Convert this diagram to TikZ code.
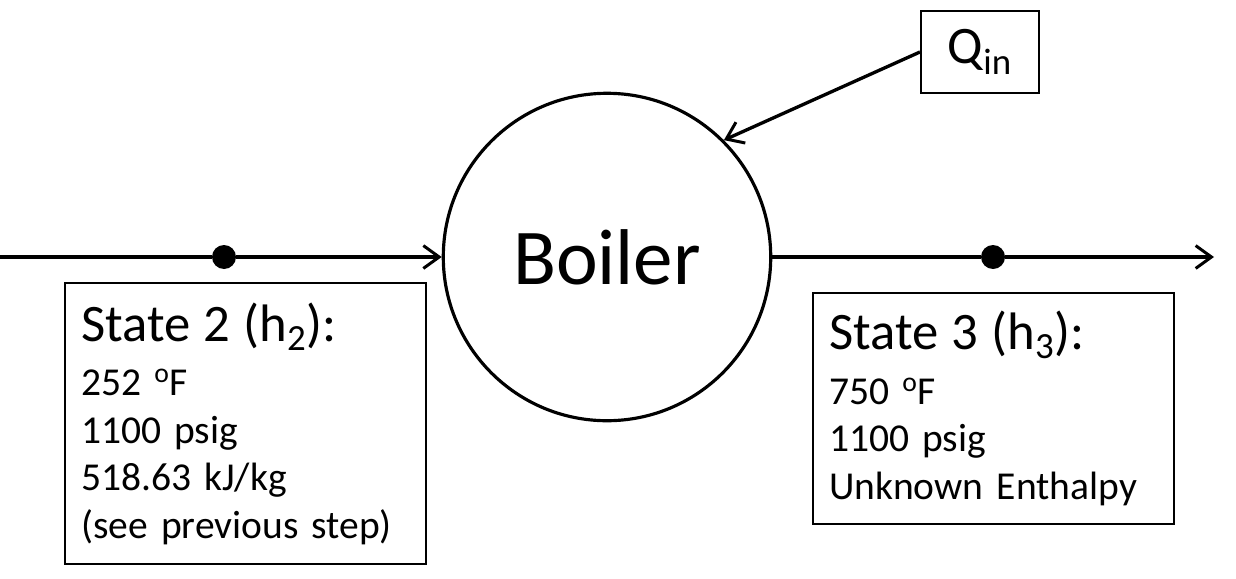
\documentclass[tikz,border=0pt]{standalone}
\usepackage{fontspec}
\setmainfont{Carlito}
\usepackage{tikz}
\usetikzlibrary{arrows.meta, positioning}

\begin{document}
\begin{tikzpicture}[
    x=0.02cm, y=-0.02cm,
    >={Straight Barb[length=9pt, width=13pt, line width=1.7pt]},
    flow/.style={->, line width=1.9pt},
    unit/.style={circle, draw, line width=1.8pt, minimum size=6.55cm, inner sep=0pt, font=\fontsize{45}{52}\selectfont},
    dot/.style={circle, fill=black, minimum size=0.48cm, inner sep=0pt},
    heatbox/.style={draw, line width=1.2pt, minimum width=2.36cm, minimum height=1.64cm, inner sep=0pt, font=\fontsize{30}{36}\selectfont},
    statebox/.style={draw, line width=1.2pt, anchor=north west, minimum width=7.22cm, inner xsep=0.32cm, inner ysep=0pt, text width=6.58cm, align=left, font=\fontsize{22.5}{27}\selectfont},
]
\useasboundingbox (0,0) rectangle (1236,578);

% ── Boiler ──
\node[unit] (boiler) at (607,257) {Boiler};

% ── Heat input ──
\node[heatbox] (qin) at (980,52) {Q\textsubscript{in}};

% ── Stream ends and state points ──
\coordinate (inlet) at (0,257);
\coordinate (outlet) at (1214,257);
\node[dot] (s2) at (224,257) {};
\node[dot] (s3) at (993,257) {};

% ── State boxes ──
\node[statebox, minimum height=5.62cm] (st2) at (64,282) {{\fontsize{30}{36}\selectfont State 2 (h\textsubscript{2}):}\\[4pt]
252 \textsuperscript{o}F\\
1100 psig\\
518.63 kJ/kg\\
(see previous step)};
\node[statebox, minimum height=4.62cm] (st3) at (812,292) {{\fontsize{30}{36}\selectfont State 3 (h\textsubscript{3}):}\\[4pt]
750 \textsuperscript{o}F\\
1100 psig\\
Unknown Enthalpy};

% ── Arrows ──
\draw[flow] (inlet) -- (s2) -- (boiler);
\draw[flow] (boiler) -- (s3) -- (outlet);
\draw[flow] (qin.west) -- (boiler.45);

\end{tikzpicture}
\end{document}
